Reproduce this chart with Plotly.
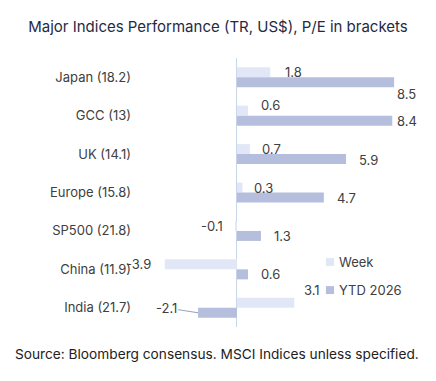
import plotly.graph_objects as go

categories = ["Japan (18.2)", "GCC (13)", "UK (14.1)", "Europe (15.8)", "SP500 (21.8)", "China (11.9)", "India (21.7)"]
week = [1.8, 0.6, 0.7, 0.3, -0.1, -3.9, 3.1]
ytd = [8.5, 8.4, 5.9, 4.7, 1.3, 0.6, -2.1]
series_names = ["Week", "YTD 2026"]

# label offsets (style): (xgap px, yshift px)
week_off = [(13, 0), (11, 6), (10, 0), (10, 0), (10, 0), (12, 0), (8, 13)]
ytd_off = [(1, -12), (3, 0), (11, -1), (11, 0), (11, 0), (11, 0), (None, None)]

C_WEEK = "#e2e7f7"
C_YTD = "#b6bedd"
COLORS = [C_WEEK, C_YTD]
FONT = "Inter"
TXT = "#404040"

fig = go.Figure()
fig.add_trace(go.Bar(y=categories, x=week, orientation="h", name=series_names[0],
                     marker=dict(color=C_WEEK, line=dict(width=0)), showlegend=False))
fig.add_trace(go.Bar(y=categories, x=ytd, orientation="h", name=series_names[1],
                     marker=dict(color=C_YTD, line=dict(width=0)), showlegend=False))

ann = []
def lab(v, cat, gap, ysh, base):
    ann.append(dict(x=v, y=cat, xref="x", yref="y", text=f"{v:.1f}",
                    showarrow=False, xanchor="left" if v >= 0 else "right",
                    xshift=gap if v >= 0 else -gap, yshift=base + ysh,
                    font=dict(family=FONT, size=13, color=TXT)))

for c, v, (g, s) in zip(categories, week, week_off):
    lab(v, c, g, s, 5)
for c, v, (g, s) in zip(categories, ytd, ytd_off):
    if g is None:
        ann.append(dict(x=v, y=c, xref="x", yref="y", text=f"{v:.1f}", showarrow=True,
                        arrowhead=0, arrowwidth=1, arrowcolor="#8fa3bf", ax=-32, ay=-5,
                        yshift=-5, font=dict(family=FONT, size=13, color=TXT)))
    else:
        lab(v, c, g, s, -5)

ann.append(dict(x=0.5, y=-0.07, xref="paper", yref="paper", yanchor="top",
                text="Source: Bloomberg consensus. MSCI Indices unless specified.",
                showarrow=False, xshift=-63, yshift=2, font=dict(family=FONT, size=13.7, color="#222222")))

# manual legend (swatch + label)
shapes = []
leg_rows = [(0.227, 0.2565, 0.2416), (0.1227, 0.152, 0.1375)]
for name, col, (y0, y1, yt) in zip(series_names, COLORS, leg_rows):
    shapes.append(dict(type="rect", xref="paper", yref="paper", x0=0.664, x1=0.693, y0=y0, y1=y1,
                       fillcolor=col, line=dict(width=0)))
    ann.append(dict(x=0.7036, y=yt, xref="paper", yref="paper", xanchor="left", yanchor="middle",
                    text=name, showarrow=False, font=dict(family=FONT, size=13, color=TXT)))

fig.update_layout(
    width=436, height=381,
    margin=dict(l=140, r=16, t=58, b=54),
    paper_bgcolor="white", plot_bgcolor="white",
    barmode="group", bargap=0.48, bargroupgap=0,
    showlegend=False,
    font=dict(family=FONT, size=13, color=TXT),
    xaxis=dict(range=[-5.24, 9.9], showgrid=False, showticklabels=False, zeroline=True,
               zerolinecolor="#c9d5e8", zerolinewidth=1, showline=False, fixedrange=True),
    yaxis=dict(range=[6.5, -0.5], showgrid=False, showline=False, ticks="",
               ticklabelstandoff=8, tickfont=dict(family=FONT, size=13, color=TXT)),
    title=dict(text="Major Indices Performance (TR, US$), P/E in brackets", x=0.5, xanchor="center",
               y=0.93, yanchor="middle", font=dict(family=FONT, size=15, color="#1f2a44")),
    annotations=ann,
    shapes=shapes,
)
fig.write_html("out.html", post_script="document.body.style.margin='0px';",
               config={"displayModeBar": False})
